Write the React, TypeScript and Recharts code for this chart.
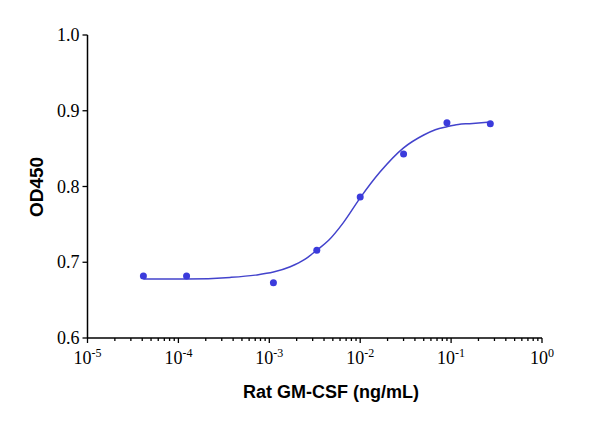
import React from 'react';
import { ComposedChart, Line, Scatter, XAxis, YAxis, Label } from 'recharts';

// measured points: concentration (ng/mL) and OD450
const concentrations = [4.12e-5, 1.23e-4, 1.11e-3, 3.33e-3, 0.01, 0.03, 0.09, 0.27];
const odValues = [0.682, 0.682, 0.673, 0.716, 0.786, 0.843, 0.884, 0.883];

// fitted curve
const curveConc = [4.12e-5, 1.23e-4, 3.7e-4, 7e-4, 1.11e-3, 1.7e-3, 2.48e-3, 3.33e-3, 4.5e-3, 6.5e-3, 0.01, 0.0165, 0.03, 0.05, 0.067, 0.09, 0.12, 0.16, 0.27];
const curveOD = [0.678, 0.678, 0.68, 0.683, 0.687, 0.694, 0.704, 0.716, 0.729, 0.752, 0.785, 0.819, 0.851, 0.868, 0.875, 0.879, 0.882, 0.883, 0.885];

const decadeTicks = [1e-5, 1e-4, 1e-3, 1e-2, 1e-1, 1];
const decadeExponents = ['-5', '-4', '-3', '-2', '-1', '0'];
const yTicks = [0.6, 0.7, 0.8, 0.9, 1.0];

const points = concentrations.map((x, i) => ({ x, od: odValues[i] }));
const curve = curveConc.map((x, i) => ({ x, fit: curveOD[i] }));

const minorTicks: number[] = [];
decadeTicks.slice(0, -1).forEach((d) => {
  for (let k = 2; k <= 9; k++) minorTicks.push(d * k);
});
const allXTicks = [...decadeTicks, ...minorTicks].sort((a, b) => a - b);

const SERIF = "'Liberation Serif', 'Times New Roman', serif";
const SANS = "'Liberation Sans', Arial, sans-serif";
const BLUE = '#3b3bdc';

function XTick(props: any) {
  const { x, y, payload } = props;
  const idx = decadeTicks.findIndex((d) => Math.abs(Math.log10(d) - Math.log10(payload.value)) < 1e-6);
  const major = idx >= 0;
  return (
    <g>
      <line x1={x} x2={x} y1={y} y2={y + (major ? 5 : 3)} stroke="#000" strokeWidth={1.3} />
      {major && (
        <text x={x} y={y + 26} textAnchor="middle" fontFamily={SERIF} fontSize={18} fill="#000">
          <tspan>10</tspan>
          <tspan dy={-7} fontSize={12}>{decadeExponents[idx]}</tspan>
        </text>
      )}
    </g>
  );
}

function YTick(props: any) {
  const { x, y, payload } = props;
  return (
    <text x={x} y={y} dy={6} textAnchor="end" fontFamily={SERIF} fontSize={18} fill="#000">
      {payload.value.toFixed(1)}
    </text>
  );
}

function Dot(props: any) {
  return <circle cx={props.cx} cy={props.cy} r={3.5} fill={BLUE} />;
}

export default function App() {
  return (
    <div style={{ position: 'absolute', left: 0, top: 0, width: 600, height: 423, background: '#fff' }}>
      <ComposedChart width={600} height={423} margin={{ top: 35, right: 58, bottom: 0, left: 0 }}>
        <XAxis
          dataKey="x"
          type="number"
          scale="log"
          domain={[1e-5, 1]}
          ticks={allXTicks}
          interval={0}
          tick={<XTick />}
          tickLine={false}
          tickSize={0}
          tickMargin={0}
          height={85}
          allowDataOverflow
          axisLine={{ stroke: '#000', strokeWidth: 1.5 }}
        >
          <Label
            content={() => (
              <text x={331} y={398} textAnchor="middle" fontFamily={SANS} fontWeight="bold" fontSize={18} fill="#000">
                Rat GM-CSF (ng/mL)
              </text>
            )}
          />
        </XAxis>
        <YAxis
          type="number"
          domain={[0.6, 1.0]}
          ticks={yTicks}
          interval={0}
          width={87.5}
          tick={<YTick />}
          tickSize={5}
          tickMargin={3}
          tickLine={{ stroke: '#000', strokeWidth: 1.3 }}
          axisLine={{ stroke: '#000', strokeWidth: 1.5 }}
        >
          <Label
            content={() => (
              <text
                x={36}
                y={187}
                transform="rotate(-90 36 187)"
                textAnchor="middle"
                dominantBaseline="central"
                fontFamily={SANS}
                fontWeight="bold"
                fontSize={19}
                fill="#000"
              >
                OD450
              </text>
            )}
          />
        </YAxis>
        <Line
          data={curve}
          dataKey="fit"
          type="monotone"
          stroke="#4343cc"
          strokeWidth={1.5}
          dot={false}
          activeDot={false}
          isAnimationActive={false}
        />
        <Scatter data={points} dataKey="od" fill={BLUE} shape={<Dot />} isAnimationActive={false} />
      </ComposedChart>
    </div>
  );
}
